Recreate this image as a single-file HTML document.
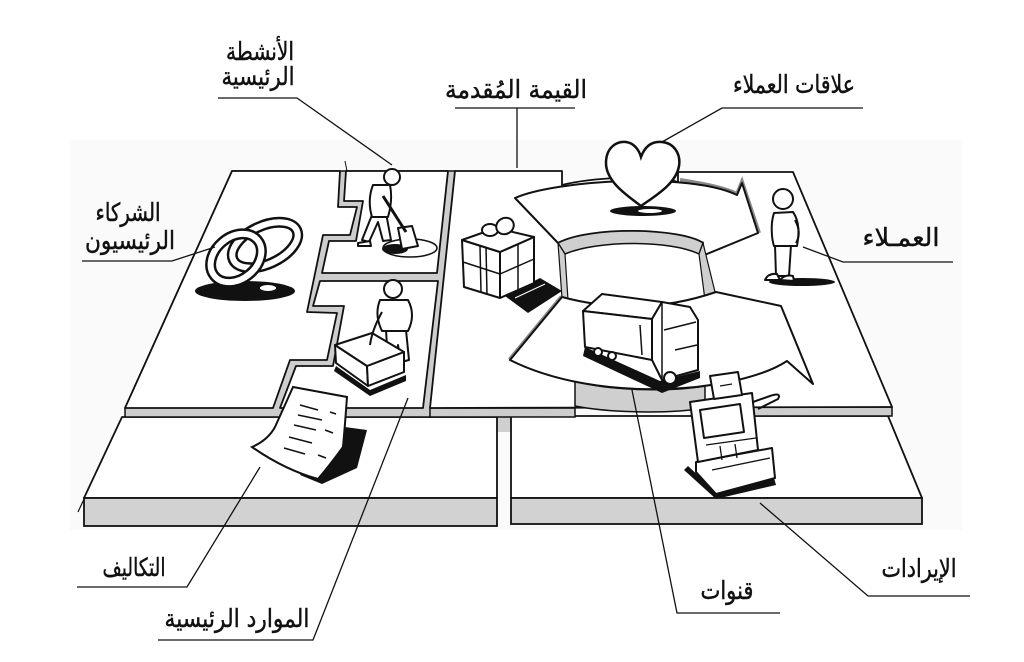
<!DOCTYPE html>
<html><head><meta charset="utf-8"><style>
html,body{margin:0;padding:0;background:#fff;}
svg{display:block;}
text{font-family:"DejaVu Sans",sans-serif;fill:#111;font-size:25px;stroke:#111;stroke-width:0.45px;}
</style></head><body>
<svg width="1024" height="662" viewBox="0 0 1024 662" xmlns="http://www.w3.org/2000/svg">
<rect width="1024" height="662" fill="#fff"/>
<rect x="70" y="140" width="892" height="390" fill="#fafafa"/>

<!-- bottom plates -->
<rect x="497" y="406" width="14" height="26" fill="#cfcfcf"/>
<polygon points="122,417 497,417 497,498 84,498" fill="#fff" stroke="#111" stroke-width="1.8" stroke-linejoin="round"/>
<rect x="84" y="498" width="413" height="28" fill="#d2d2d2" stroke="#111" stroke-width="1.8"/>
<line x1="78" y1="512" x2="85" y2="497" stroke="#111" stroke-width="1.2"/>
<polygon points="511,416 888,416 922,498 511,498" fill="#fff" stroke="#111" stroke-width="1.8" stroke-linejoin="round"/>
<rect x="511" y="498" width="411" height="26" fill="#d2d2d2" stroke="#111" stroke-width="1.8"/>

<!-- top plate underlay -->
<polygon points="232,171 455,171 430,417 125,417 125,408" fill="#cdcdcd" stroke="#111" stroke-width="1.5"/>
<rect x="430" y="408" width="145" height="9" fill="#cdcdcd" stroke="#111" stroke-width="1.5"/>
<rect x="705" y="407" width="187" height="9" fill="#cdcdcd" stroke="#111" stroke-width="1.5"/>

<!-- key partners -->
<polygon points="232,171 340,171 338,207 357,207 350,235 323,235 307,312 337,313 327,360 290,360 273,408 125,408" fill="#fff" stroke="#111" stroke-width="1.8" stroke-linejoin="round"/>
<!-- key activities -->
<polygon points="346,171 448,171 437,273 322,273 329,241 356,241 363,201 344,201" fill="#fff" stroke="#111" stroke-width="1.8" stroke-linejoin="round"/>
<line x1="345" y1="161" x2="347" y2="171" stroke="#111" stroke-width="1"/>
<!-- key resources -->
<polygon points="320,281 438,281 423,408 280,408 296,366 333,366 344,306 313,306" fill="#fff" stroke="#111" stroke-width="1.8" stroke-linejoin="round"/>

<!-- value prop + customer block -->
<path d="M455,171 L562,171 L562,185 C590,178 650,174 678,182 L678,172 L793,172 L892,407 L430,408 Z" fill="#fff" stroke="#111" stroke-width="1.8" stroke-linejoin="round"/>

<!-- upper band (relationships) -->
<path d="M680,180 C705,184 725,188 737,194 L742,182 L759,233" fill="none" stroke="#888" stroke-width="4"/>
<path d="M515,198 C555,180 690,172 737,195 L742,183 L758,233 L702,256 L703,243 C680,228 590,226 558,243 Z" fill="#fff" stroke="#111" stroke-width="2" stroke-linejoin="round"/>
<path d="M558,243 C590,226 680,228 703,243 L699,254 C670,240 598,240 565,254 Z" fill="#cfcfcf" stroke="#111" stroke-width="1.5"/>
<path d="M558,243 L565,254 L568,300 L562,298 Z" fill="#cfcfcf" stroke="#111" stroke-width="1.2"/>
<path d="M703,243 L699,254 L705,300 L716,296 Z" fill="#cfcfcf" stroke="#111" stroke-width="1.2"/>

<!-- lower band (channels) -->
<path d="M575,381 C610,391 670,392 705,386 L705,408 C670,414 610,413 575,406 Z" fill="#cfcfcf" stroke="#111" stroke-width="1.5"/>
<path d="M510,360 L562,297" stroke="#888" stroke-width="5"/>
<path d="M562,297 Q640,318 716,292 L781,306 L813,384 L787,361 C740,392 600,405 510,360 Z" fill="#fff" stroke="#111" stroke-width="2" stroke-linejoin="round"/>

<!-- heart -->
<ellipse cx="643" cy="211" rx="33" ry="5" fill="#111"/>
<ellipse cx="650" cy="211" rx="12" ry="2" fill="#fff"/>
<path d="M641,206 C628,196 606,182 606,163 C606,148 616,141 626,142 C634,143 639,150 641,157 C645,146 652,141 662,142 C674,143 681,154 679,166 C676,184 655,196 641,206 Z" fill="#fff" stroke="#111" stroke-width="2.5"/>

<!-- customer -->
<ellipse cx="802" cy="282" rx="33" ry="4" fill="#111"/>
<g fill="#fff" stroke="#111" stroke-width="2" stroke-linejoin="round">
<path d="M775,245 L776,276 L789,276 L791,245 Z"/>
<path d="M774,213 C770,225 772,240 774,246 L797,246 C799,235 800,222 793,212 Z"/>
<path d="M765,280 Q768,273 777,274 L780,280 Z"/>
<path d="M780,280 Q785,274 793,276 L794,281 Z"/>
<circle cx="783" cy="199" r="10"/>
<path d="M795,220 Q802,233 796,243" fill="none"/>
</g>

<!-- gift -->
<polygon points="505,296 540,278 562,291 528,313" fill="#111"/>
<line x1="515" y1="298" x2="545" y2="284" stroke="#fff" stroke-width="1"/>
<g fill="#fff" stroke="#111" stroke-width="2" stroke-linejoin="round">
<polygon points="462,240 500,252 500,298 464,287"/>
<polygon points="500,252 534,237 534,283 500,298"/>
<polygon points="462,240 496,228 534,237 500,252"/>
<ellipse cx="490" cy="230" rx="8" ry="6"/>
<ellipse cx="505" cy="226" rx="9" ry="8" transform="rotate(-30 505 226)"/>
</g>
<g stroke="#111" stroke-width="1.5">
<line x1="480" y1="246" x2="481" y2="293"/><line x1="486" y1="247" x2="487" y2="295"/>
<line x1="463" y1="262" x2="500" y2="274"/><line x1="500" y1="274" x2="534" y2="259"/>
<line x1="518" y1="245" x2="518" y2="290"/>
</g>

<!-- truck -->
<polygon points="585,347 660,381 700,371 700,378 662,393 583,356" fill="#111"/>
<g fill="#fff" stroke="#111" stroke-width="2" stroke-linejoin="round">
<polygon points="583,311 602,294 662,302 652,319"/>
<polygon points="583,311 652,319 652,360 585,347"/>
<polygon points="652,319 662,302 690,307 698,320 698,370 662,380 652,360"/>
<circle cx="598" cy="352" r="4"/><circle cx="612" cy="356" r="4"/><circle cx="670" cy="378" r="6"/>
</g>
<g stroke="#111" stroke-width="1.5" fill="none">
<line x1="662" y1="302" x2="662" y2="380"/><line x1="664" y1="330" x2="696" y2="322"/>
<line x1="675" y1="350" x2="697" y2="345"/><line x1="640" y1="325" x2="642" y2="355"/>
</g>

<!-- cash register -->
<polygon points="688,466 716,492 774,478 776,485 716,499 684,470" fill="#111"/>
<g fill="#fff" stroke="#111" stroke-width="2" stroke-linejoin="round">
<polygon points="696,462 772,448 775,478 716,494 696,472"/>
<polygon points="690,402 752,393 758,450 698,462"/>
<polygon points="710,376 738,372 742,395 714,399"/>
<polygon points="700,410 740,404 744,432 704,438"/>
<path d="M753,402 L770,396 Q782,392 778,399 L758,409" fill="none"/>
</g>
<g stroke="#111" stroke-width="1.3" fill="none">
<line x1="706" y1="445" x2="756" y2="438"/><line x1="720" y1="446" x2="722" y2="460"/>
<line x1="735" y1="444" x2="737" y2="458"/><line x1="712" y1="470" x2="770" y2="458"/>
<line x1="720" y1="386" x2="732" y2="384"/>
</g>

<!-- rings -->
<ellipse cx="245" cy="291" rx="50" ry="10" fill="#111"/>
<ellipse cx="268" cy="288" rx="8" ry="3" fill="#fff"/>
<ellipse cx="265" cy="245" rx="35" ry="19" transform="rotate(-25 265 245)" fill="none" stroke="#111" stroke-width="11"/>
<ellipse cx="265" cy="245" rx="35" ry="19" transform="rotate(-25 265 245)" fill="none" stroke="#fff" stroke-width="6"/>
<ellipse cx="236" cy="258" rx="28" ry="21" transform="rotate(-40 236 258)" fill="none" stroke="#111" stroke-width="11"/>
<ellipse cx="236" cy="258" rx="28" ry="21" transform="rotate(-40 236 258)" fill="none" stroke="#fff" stroke-width="6"/>

<!-- worker (activities) -->
<ellipse cx="410" cy="248" rx="27" ry="9" fill="none" stroke="#111" stroke-width="1.5"/>
<ellipse cx="395" cy="249" rx="13" ry="5" fill="#111"/>
<g fill="#fff" stroke="#111" stroke-width="2" stroke-linejoin="round">
<path d="M372,215 L362,240 L369,242 L378,222 L383,241 L391,240 L386,213 Z"/>
<path d="M373,185 Q367,200 372,217 L388,217 Q393,200 390,185 Z"/>
<circle cx="392" cy="177" r="8"/>
<polygon points="398,228 412,226 418,246 402,249"/>
<path d="M358,243 L370,241 L371,246 L358,246 Z"/>
</g>
<line x1="383" y1="196" x2="406" y2="232" stroke="#111" stroke-width="3"/>

<!-- person with box (resources) -->
<g fill="#fff" stroke="#111" stroke-width="2" stroke-linejoin="round">
<path d="M386,330 L388,362 L396,362 L398,345 L401,362 L409,360 L406,330 Z"/>
<path d="M380,300 Q374,315 382,331 L408,331 Q416,315 408,300 Z"/>
<circle cx="393" cy="289" r="9"/>
</g>
<polygon points="336,366 370,390 406,375 406,381 370,396 334,371" fill="#111"/>
<g fill="#fff" stroke="#111" stroke-width="2" stroke-linejoin="round">
<polygon points="335,345 367,366 368,386 336,363"/>
<polygon points="367,366 404,352 404,372 368,386"/>
<polygon points="335,345 372,333 404,352 367,366"/>
</g>
<path d="M382,312 Q372,330 370,345" fill="none" stroke="#111" stroke-width="2"/>

<!-- paper -->
<polygon points="330,425 367,430 357,468 322,484 300,475" fill="#111"/>
<path d="M293,387 L347,397 Q345,425 343,447 Q330,465 318,479 Q285,470 252,447 Q268,440 275,427 Q285,405 293,387 Z" fill="#fff" stroke="#111" stroke-width="2"/>
<g stroke="#111" stroke-width="1.6" fill="none">
<path d="M300,405 L318,410"/><path d="M298,415 L322,420"/><path d="M294,425 L316,430"/>
<path d="M289,437 L312,443"/><path d="M284,448 L305,454"/><path d="M325,430 L333,433"/>
<path d="M318,455 L326,458"/><path d="M330,412 L336,414"/>
</g>

<!-- leaders -->
<g stroke="#111" stroke-width="1.3" fill="none">
<path d="M218,98 L297,98 L392,165"/>
<path d="M455,108 L575,108 M517,108 L517,168"/>
<path d="M863,108 L722,108 L662,142"/>
<path d="M82,261 L172,261 L215,247"/>
<path d="M953,262 L843,262 L803,247"/>
<path d="M77,587 L187,587 L260,467"/>
<path d="M158,640 L313,640 L408,398"/>
<path d="M780,613 L677,613 L632,390"/>
<path d="M970,596 L868,596 L760,503"/>
</g>

<!-- labels -->
<text x="260" y="60" text-anchor="middle" textLength="68" lengthAdjust="spacingAndGlyphs">الأنشطة</text>
<text x="258" y="85" text-anchor="middle" textLength="73" lengthAdjust="spacingAndGlyphs">الرئيسية</text>
<text x="516" y="98" text-anchor="middle" textLength="142" lengthAdjust="spacingAndGlyphs">القيمة المُقدمة</text>
<text x="794" y="93" text-anchor="middle" textLength="122" lengthAdjust="spacingAndGlyphs">علاقات العملاء</text>
<text x="128" y="221" text-anchor="middle" textLength="65" lengthAdjust="spacingAndGlyphs">الشركاء</text>
<text x="130" y="249" text-anchor="middle" textLength="90" lengthAdjust="spacingAndGlyphs">الرئيسيون</text>
<text x="901" y="246" text-anchor="middle" textLength="77" lengthAdjust="spacingAndGlyphs">العمـلاء</text>
<text x="134" y="576" text-anchor="middle" textLength="63" lengthAdjust="spacingAndGlyphs">التكاليف</text>
<text x="237" y="627" text-anchor="middle" textLength="145" lengthAdjust="spacingAndGlyphs">الموارد الرئيسية</text>
<text x="727" y="599" text-anchor="middle" textLength="53" lengthAdjust="spacingAndGlyphs">قنوات</text>
<text x="919" y="577" text-anchor="middle" textLength="75" lengthAdjust="spacingAndGlyphs">الإيرادات</text>
</svg>
</body></html>
